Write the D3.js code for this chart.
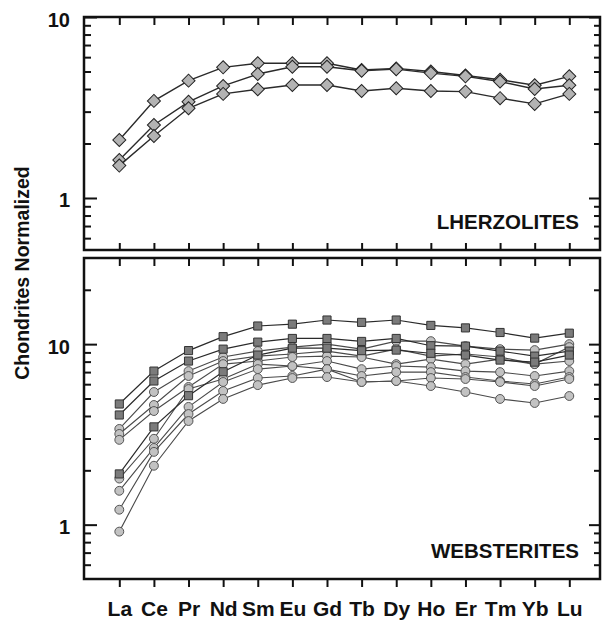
<!DOCTYPE html>
<html>
<head>
<meta charset="utf-8">
<script src="https://cdn.jsdelivr.net/npm/d3@7"></script>
<style>
    body { margin: 0; background: #ffffff; }
    svg text { font-family: "Liberation Sans", Arial, sans-serif; font-weight: bold; fill: #111111; }
</style>
</head>
<body>
<div id="chart"></div>
<script>

// REE order on the x axis
const elements = ["La", "Ce", "Pr", "Nd", "Sm", "Eu", "Gd", "Tb", "Dy", "Ho", "Er", "Tm", "Yb", "Lu"];

// Lherzolites (diamonds)
const lherzolites = [
    [2.09, 3.44, 4.45, 5.27, 5.55, 5.55, 5.55, 5.10, 5.20, 5.00, 4.75, 4.50, 4.20, 4.70],
    [1.62, 2.53, 3.40, 4.16, 4.84, 5.31, 5.31, 5.05, 5.15, 4.90, 4.70, 4.40, 4.00, 4.20],
    [1.51, 2.20, 3.13, 3.76, 3.99, 4.21, 4.21, 3.90, 4.04, 3.90, 3.87, 3.56, 3.31, 3.76]
];

// Websterites (squares)
const websteritesSquares = [
    [4.66, 7.09, 9.21, 11.0, 12.6, 12.9, 13.6, 13.2, 13.6, 12.7, 12.3, 11.6, 10.8, 11.5],
    [4.05, 6.25, 8.06, 9.38, 10.26, 10.75, 10.75, 10.35, 10.75, 9.80, 9.75, 9.15, 8.58, 9.15],
    [1.91, 3.48, 5.18, 7.03, 8.70, 9.50, 9.50, 9.20, 9.27, 8.90, 8.70, 8.16, 7.95, 8.70]
];

// Websterites (circles)
const websteritesCircles = [
    [3.39, 5.43, 7.09, 8.48, 9.15, 9.63, 10.0, 9.38, 10.39, 10.39, 9.75, 9.38, 9.27, 10.0],
    [3.18, 4.60, 6.66, 8.06, 8.58, 8.81, 9.15, 8.58, 9.38, 8.58, 8.81, 8.48, 7.75, 9.63],
    [2.95, 4.26, 5.79, 7.75, 8.06, 8.48, 8.58, 8.48, 7.75, 8.26, 7.75, 8.26, 7.75, 8.06],
    [1.80, 2.99, 5.64, 6.41, 7.75, 7.56, 8.06, 7.27, 7.56, 7.46, 7.09, 7.00, 6.66, 7.09],
    [1.54, 2.66, 4.49, 6.17, 7.27, 7.56, 7.27, 6.66, 7.00, 7.00, 6.57, 6.25, 6.01, 6.57],
    [1.21, 2.53, 4.10, 5.50, 6.49, 6.66, 7.27, 6.17, 6.25, 6.49, 6.41, 6.17, 5.86, 6.41],
    [0.915, 2.12, 3.75, 4.97, 5.93, 6.49, 6.57, 6.17, 6.25, 5.86, 5.43, 4.97, 4.72, 5.16]
];

const yTitle = "Chondrites Normalized";
const panelLabels = ["LHERZOLITES", "WEBSTERITES"];

const params = {
    selector: "chart",
    width: 602,
    height: 621,
    left: 84,
    right: 600,
    firstX: 119.3,
    lastX: 569.3
}

const paramsTop = { top: 17, bottom: 250, min: 0.516, max: 10, majors: [1, 10], minors: [0.6, 0.7, 0.8, 0.9, 2, 3, 4, 5, 6, 7, 8, 9] }
const paramsBottom = { top: 258, bottom: 579, min: 0.5, max: 30, majors: [1, 10], minors: [0.6, 0.7, 0.8, 0.9, 2, 3, 4, 5, 6, 7, 8, 9, 20] }

const svg = d3.select(`#${params.selector}`)
    .append("svg")
    .attr("width", params.width)
    .attr("height", params.height)
    .attr("viewBox", `0 0 ${params.width} ${params.height}`);

const xScale = d3.scalePoint()
    .domain(elements)
    .range([params.firstX, params.lastX]);

function drawPanel(p, label, showXLabels) {
    const yScale = d3.scaleLog()
        .domain([p.min, p.max])
        .range([p.bottom, p.top]);

    const g = svg.append("g");

    // y ticks, left and right, pointing inward
    g.append("g")
        .attr("transform", `translate(${params.left},0)`)
        .call(d3.axisLeft(yScale).tickValues(p.minors).tickSize(-7).tickFormat(""));
    const leftMajor = g.append("g")
        .attr("transform", `translate(${params.left},0)`)
        .call(d3.axisLeft(yScale).tickValues(p.majors).tickSize(-13).tickPadding(14).tickFormat(d3.format("d")));
    g.append("g")
        .attr("transform", `translate(${params.right},0)`)
        .call(d3.axisRight(yScale).tickValues(p.minors).tickSize(-6).tickFormat(""));
    g.append("g")
        .attr("transform", `translate(${params.right},0)`)
        .call(d3.axisRight(yScale).tickValues(p.majors).tickSize(-11).tickFormat(""));

    leftMajor.selectAll("text")
        .attr("dy", null)
        .attr("y", 9)
        .style("font-size", "20px");

    // x ticks
    g.append("g")
        .attr("transform", `translate(0,${p.top})`)
        .call(d3.axisTop(xScale).tickSize(-8).tickFormat(""));

    const xBottom = g.append("g")
        .attr("transform", `translate(0,${p.bottom})`)
        .call(d3.axisBottom(xScale).tickSize(showXLabels ? 8 : -7).tickFormat(showXLabels ? null : ""));

    if (showXLabels) {
        xBottom.selectAll("text")
            .attr("dy", null)
            .attr("y", 37)
            .style("font-size", "21px");
    }

    g.selectAll(".domain").remove();
    g.selectAll(".tick line")
        .attr("stroke", "#111")
        .attr("stroke-width", 2);
    g.selectAll(".tick text").attr("fill", "#111");

    // frame
    g.append("rect")
        .attr("x", params.left)
        .attr("y", p.top)
        .attr("width", params.right - params.left)
        .attr("height", p.bottom - p.top)
        .attr("fill", "none")
        .attr("stroke", "#111")
        .attr("stroke-width", 2.5);

    g.append("text")
        .attr("x", 579)
        .attr("y", p.bottom - 21)
        .attr("text-anchor", "end")
        .style("font-size", "20.5px")
        .text(label);

    return {g: g, yScale: yScale};
}

function drawSeries(g, yScale, series, symbol, size, rotate, fill, stroke, lineColor, lineWidth) {
    const line = d3.line()
        .x(function(d, i) {return xScale(elements[i]);})
        .y(function(d) {return yScale(d);});

    series.forEach(function(values) {
        const s = g.append("g");
        s.append("path")
            .datum(values)
            .attr("d", line)
            .attr("fill", "none")
            .attr("stroke", lineColor)
            .attr("stroke-width", lineWidth);

        s.selectAll("path.marker")
            .data(values)
            .join("path")
            .attr("class", "marker")
            .attr("d", d3.symbol(symbol, size))
            .attr("transform", function(d, i) {return `translate(${xScale(elements[i])},${yScale(d)}) rotate(${rotate})`;})
            .attr("fill", fill)
            .attr("stroke", stroke)
            .attr("stroke-width", 1);
    });
}

// Top panel
const topPanel = drawPanel(paramsTop, panelLabels[0], false);
drawSeries(topPanel.g, topPanel.yScale, lherzolites, d3.symbolSquare, 85, 45, "#b3b3b3", "#222", "#2a2a2a", 1.4);

// Bottom panel
const bottomPanel = drawPanel(paramsBottom, panelLabels[1], true);
drawSeries(bottomPanel.g, bottomPanel.yScale, websteritesCircles, d3.symbolCircle, 62, 0, "#c2c2c2", "#555", "#4a4a4a", 1.1);
drawSeries(bottomPanel.g, bottomPanel.yScale, websteritesSquares, d3.symbolSquare, 66, 0, "#7b7b7b", "#333", "#2a2a2a", 1.2);

// y title
svg.append("text")
    .attr("transform", `translate(29,273) rotate(-90)`)
    .attr("text-anchor", "middle")
    .style("font-size", "19.5px")
    .text(yTitle);

</script>
</body>
</html>
